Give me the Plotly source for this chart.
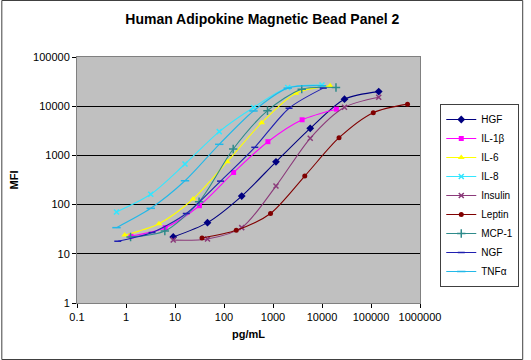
import plotly.graph_objects as go

# ---- data ----
series_names = ["HGF", "IL-1β", "IL-6", "IL-8", "Insulin", "Leptin", "MCP-1", "NGF", "TNFα"]

hgf_x = [9.2, 46, 230, 1150, 5750, 28750, 143750]
hgf_y = [22, 43, 149, 740, 3550, 13900, 19800]

il1b_x = [1.26, 6.3, 31.5, 157, 787, 3930, 19660]
il1b_y = [23, 34, 95, 450, 1900, 5300, 8700]

il6_x = [0.94, 4.7, 23.4, 117, 586, 2930, 14650]
il6_y = [24, 41, 130, 745, 4600, 18400, 25900]

il8_x = [0.64, 3.2, 16, 80, 400, 2000, 10000]
il8_y = [71, 162, 668, 3040, 9400, 24000, 27000]

insulin_x = [9.2, 46, 230, 1150, 5750, 28750, 143750]
insulin_y = [19, 20, 34, 238, 2230, 9500, 15200]

leptin_x = [35.6, 178, 890, 4450, 22250, 111250, 556250]
leptin_y = [21, 30, 66, 380, 2290, 7400, 11000]

mcp1_x = [1.24, 6.2, 31, 154, 772, 3860, 19300]
mcp1_y = [22, 29, 114, 1350, 8100, 22200, 24000]

ngf_x = [0.68, 3.4, 17, 85, 425, 2125, 10600]
ngf_y = [18, 27, 66, 300, 1460, 9100, 23300]

tnfa_x = [0.64, 3.2, 16, 80, 400, 2000, 10000]
tnfa_y = [34, 84, 305, 1680, 8000, 23300, 26000]

x_tickvals = [0.1, 1, 10, 100, 1000, 10000, 100000, 1000000]
x_ticktext = ["0.1", "1", "10", "100", "1000", "10000", "100000", "1000000"]
y_tickvals = [1, 10, 100, 1000, 10000, 100000]
y_ticktext = ["1", "10", "100", "1000", "10000", "100000"]

# ---- styles ----
styles = [
    dict(color="#000080", symbol="diamond", size=6),
    dict(color="#FF00FF", symbol="square", size=5),
    dict(color="#FFFF00", symbol="triangle-up", size=6),
    dict(color="#33E6FF", symbol="x-thin", size=5),
    dict(color="#8B3A7A", symbol="x-thin", size=5),
    dict(color="#800000", symbol="circle", size=5),
    dict(color="#2E8B8B", symbol="cross-thin", size=6),
    dict(color="#2020B0", symbol="line-ew", size=5),
    dict(color="#22B8E8", symbol="line-ew", size=6),
]
data = [
    (hgf_x, hgf_y), (il1b_x, il1b_y), (il6_x, il6_y), (il8_x, il8_y),
    (insulin_x, insulin_y), (leptin_x, leptin_y), (mcp1_x, mcp1_y),
    (ngf_x, ngf_y), (tnfa_x, tnfa_y),
]

FONT = "Arial, Liberation Sans, sans-serif"

fig = go.Figure()
for name, (xs, ys), st in zip(series_names, data, styles):
    thin = st["symbol"] in ("x-thin", "cross-thin", "line-ew")
    fig.add_trace(go.Scatter(
        x=xs, y=ys, name=name, mode="lines+markers",
        line=dict(color=st["color"], width=1.1, shape="spline", smoothing=0.8),
        marker=dict(symbol=st["symbol"], size=st["size"], color=st["color"],
                    line=dict(color=st["color"], width=1.5 if thin else 0)),
    ))

W, H = 531, 360
ml, mr, mt, mb = 77, 105, 57, 57
pw, ph = W - ml - mr, H - mt - mb

fig.update_layout(
    width=W, height=H,
    margin=dict(l=ml, r=mr, t=mt, b=mb),
    paper_bgcolor="white",
    plot_bgcolor="#C0C0C0",
    font=dict(family=FONT, size=11, color="black"),
    title=dict(text="<b>Human Adipokine Magnetic Bead Panel 2</b>",
               x=0.494, xanchor="center", y=1 - 19 / H, yanchor="middle",
               yref="container",
               font=dict(family=FONT, size=14, color="black")),
    showlegend=True,
    legend=dict(x=(527 - ml) / pw, xanchor="right", y=(H - mb - 104) / ph,
                yanchor="top", bgcolor="white", bordercolor="#404040",
                borderwidth=1, font=dict(family=FONT, size=10),
                tracegroupgap=0, itemwidth=30),
    xaxis=dict(type="log", range=[-1, 6], tickvals=x_tickvals, ticktext=x_ticktext,
               showgrid=False, zeroline=False, showline=True, linecolor="#808080",
               linewidth=1, mirror=True, ticks="outside", ticklen=4, tickcolor="black",
               tickfont=dict(family=FONT, size=11),
               title=dict(text="<b>pg/mL</b>", font=dict(family=FONT, size=11), standoff=8)),
    yaxis=dict(type="log", range=[0, 5], tickvals=y_tickvals, ticktext=y_ticktext,
               showgrid=True, gridcolor="black", gridwidth=1, zeroline=False,
               showline=True, linecolor="#808080", linewidth=1, mirror=True,
               ticks="outside", ticklen=4, tickcolor="black",
               tickfont=dict(family=FONT, size=11),
               title=dict(text="<b>MFI</b>", font=dict(family=FONT, size=11), standoff=12)),
)

# outer chart border
fig.add_shape(type="rect", xref="paper", yref="paper",
              x0=(-ml + 0.5) / pw, x1=(W - ml - 0.5) / pw,
              y0=(-mb + 0.5) / ph, y1=(H - mb - 0.5) / ph,
              line=dict(color="#404040", width=1), fillcolor="rgba(0,0,0,0)", layer="below")

fig.write_html("out.html",
               config={"displayModeBar": False},
               post_script=("document.body.style.margin='0';document.body.style.padding='0';"
                            "document.body.style.overflow='hidden';"
                            "document.documentElement.style.overflow='hidden';"))
